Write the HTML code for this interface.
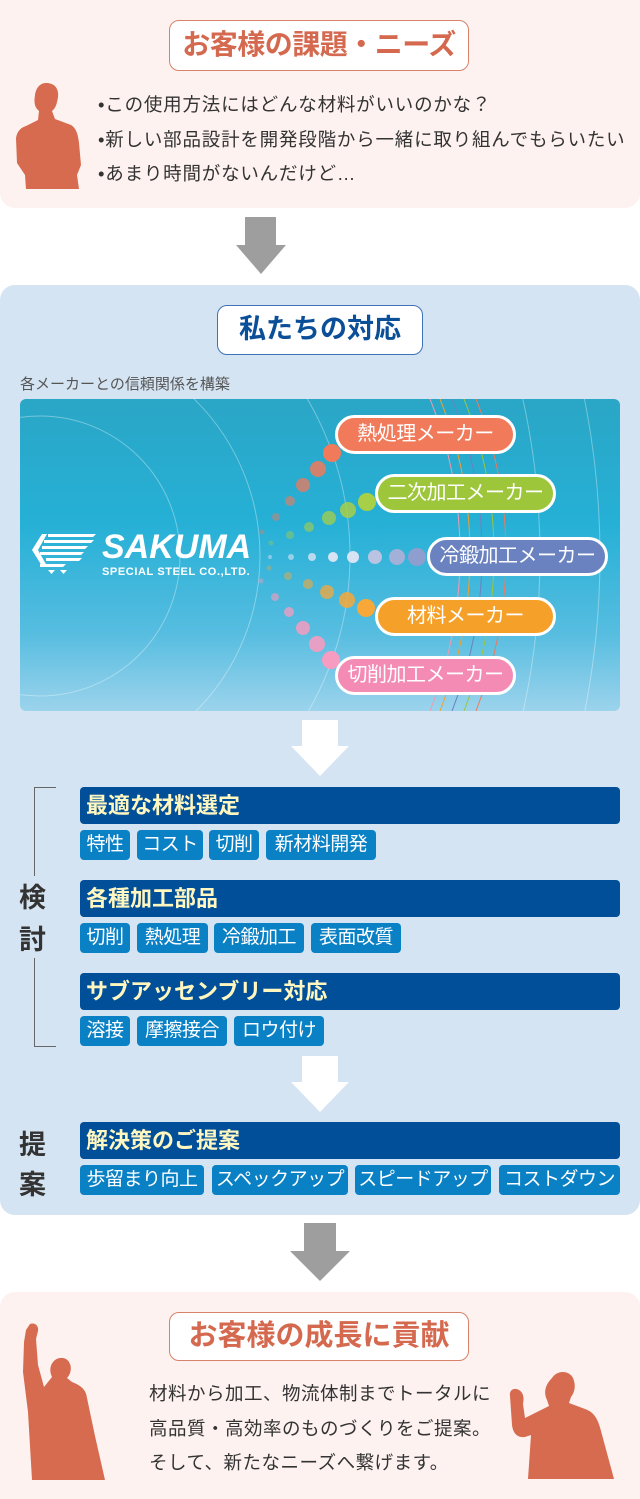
<!DOCTYPE html>
<html><head><meta charset="utf-8"><style>
*{margin:0;padding:0;box-sizing:border-box}
body{width:640px;height:1499px;background:#fff;position:relative;overflow:hidden;font-family:"Liberation Sans","Noto Sans CJK JP",sans-serif}
.a{position:absolute}
.tbox{position:absolute;border:1.5px solid #d9826a;background:#fff;border-radius:10px;color:#d4694f;font-weight:bold;font-size:28px;text-align:center;white-space:nowrap}
.bar{position:absolute;left:80px;width:540px;height:37px;background:#004f98;border-radius:4px;color:#fff6c0;font-weight:bold;font-size:22px;line-height:37px;padding-left:6px}
.tag{position:absolute;height:30px;background:#0a80c5;border-radius:4px;color:#fff;font-size:19px;line-height:30px;text-align:center;letter-spacing:-0.5px;white-space:nowrap}
.pill{position:absolute;height:39px;border:3px solid #fff;border-radius:20px;color:#fff;font-size:20px;line-height:33px;text-align:center;width:181px;white-space:nowrap;letter-spacing:-0.5px}
.side{position:absolute;left:19px;font-size:27px;color:#333;font-weight:bold}
</style></head><body>
<div class="a" style="left:0;top:0;width:640px;height:208px;background:#fdf2f0;border-radius:0 0 15px 15px"></div>
<div class="tbox" style="left:169px;top:20px;width:300px;height:51px;line-height:48px;letter-spacing:-0.5px">お客様の課題・ニーズ</div>
<svg class="a" style="left:14px;top:82px" width="72" height="108" viewBox="0 0 72 108"><path fill="#d66b4f" d="M32 1c9 0 13 6 12 14-1 6-2 11-6 14l3 8 16 6c5 3 7 9 8 18l2 22-4 10 2 14H12l-1-14-8-12L2 56c1-6 4-10 10-12l12-6 1-9c-5-4-5-10-4-16C22 6 26 1 32 1z"/></svg>
<div class="a" style="left:98px;top:88px;font-size:18.5px;line-height:34.5px;color:#333;letter-spacing:0.8px;white-space:nowrap">•この使用方法にはどんな材料がいいのかな？<br>•新しい部品設計を開発段階から一緒に取り組んでもらいたい<br>•あまり時間がないんだけど…</div>
<svg class="a" style="left:236px;top:217px" width="50" height="58"><path fill="#9e9e9e" d="M9 0h31v28h10L25 57 0 28h9z"/></svg>

<div class="a" style="left:0;top:285px;width:640px;height:930px;background:#d5e4f3;border-radius:15px"></div>
<div class="a" style="left:217px;top:305px;width:206px;height:50px;border:1.5px solid #3d73b8;background:#fff;border-radius:10px;color:#0b4f98;font-weight:bold;font-size:27px;text-align:center;line-height:47px">私たちの対応</div>
<div class="a" style="left:20px;top:373px;font-size:15px;color:#555">各メーカーとの信頼関係を構築</div>

<div class="a" style="left:20px;top:399px;width:600px;height:312px;border-radius:6px;overflow:hidden;background:linear-gradient(180deg,#2aa6c6 0%,#26b0d6 40%,#56bde0 75%,#9cd3ec 100%)">
<svg width="600" height="312" style="position:absolute;left:0;top:0">
<g fill="none" stroke="#ffffff" stroke-opacity=".35" stroke-width="1">
<circle cx="20" cy="157" r="140"/><circle cx="20" cy="157" r="220"/><circle cx="20" cy="157" r="310"/>
<circle cx="-200" cy="157" r="720"/><circle cx="-220" cy="157" r="800"/></g>
<g fill="none" stroke-width="1">
<path d="M410 0 C450 100 450 210 410 312" stroke="#f29bb0"/><path d="M420 0 C460 100 460 210 420 312" stroke="#f5a028"/>
<path d="M432 0 C472 100 472 210 432 312" stroke="#6a82c0"/><path d="M444 0 C484 100 484 210 444 312" stroke="#9dc63a"/>
<path d="M456 0 C496 100 496 210 456 312" stroke="#f07a5a"/></g>
<g transform="translate(-20,-399)">
<g fill="#f07a5a"><circle cx="332" cy="453" r="9"/><circle cx="318" cy="469" r="8" opacity=".85"/><circle cx="303" cy="485" r="7" opacity=".75"/><circle cx="290" cy="501" r="5" opacity=".6"/><circle cx="276" cy="517" r="4" opacity=".45"/><circle cx="262" cy="532" r="2.5" opacity=".35"/></g>
<g fill="#a8cf48"><circle cx="367" cy="502" r="9"/><circle cx="348" cy="510" r="8" opacity=".85"/><circle cx="329" cy="518" r="7" opacity=".75"/><circle cx="309" cy="527" r="5" opacity=".6"/><circle cx="290" cy="535" r="4" opacity=".45"/><circle cx="271" cy="543" r="2.5" opacity=".35"/></g>
<g fill="#d8e4f4"><circle cx="417" cy="557" r="9" fill="#8e9ecf"/><circle cx="397" cy="557" r="8" fill="#a3b0d8"/><circle cx="375" cy="557" r="7" fill="#bac4e2"/><circle cx="353" cy="557" r="6"/><circle cx="333" cy="557" r="5"/><circle cx="312" cy="557" r="4" opacity=".8"/><circle cx="291" cy="557" r="3" opacity=".6"/><circle cx="270" cy="557" r="2" opacity=".5"/></g>
<g fill="#f7a838"><circle cx="366" cy="608" r="9"/><circle cx="347" cy="600" r="8" opacity=".85"/><circle cx="327" cy="592" r="7" opacity=".75"/><circle cx="308" cy="584" r="5" opacity=".6"/><circle cx="288" cy="576" r="4" opacity=".45"/><circle cx="269" cy="568" r="2.5" opacity=".35"/></g>
<g fill="#f59cc0"><circle cx="331" cy="660" r="9"/><circle cx="317" cy="644" r="8" opacity=".9"/><circle cx="303" cy="628" r="7" opacity=".85"/><circle cx="289" cy="612" r="5" opacity=".75"/><circle cx="275" cy="597" r="4" opacity=".6"/><circle cx="261" cy="581" r="2.5" opacity=".45"/></g>
<g fill="#fff"><path d="M48 534h48l-3 3H48zM44 540h50l-3 3H44zM42 546h46l-3 3H42zM40 552h44l-3 3H40zM46 558h36l-3 3H46zM40 564h26l-3 3H40zM32 550l10-16h5l-9 16 9 16h-5z"/><path d="M48 570h7l-3.5 4zM60 570h7l-3.5 4z"/></g>
</g></svg>
<div class="a" style="left:82px;top:130px;color:#fff;font-weight:bold;font-style:italic;font-size:34px;letter-spacing:0px;line-height:36px">SAKUMA</div>
<div class="a" style="left:82px;top:167px;color:#fff;font-weight:bold;font-size:11px;letter-spacing:0.6px">SPECIAL STEEL CO.,LTD.</div>
</div>
<div class="pill" style="left:335px;top:415px;background:#f07a5a">熱処理メーカー</div>
<div class="pill" style="left:375px;top:474px;background:#9dc63a">二次加工メーカー</div>
<div class="pill" style="left:427px;top:537px;background:#6a82c0">冷鍛加工メーカー</div>
<div class="pill" style="left:375px;top:597px;background:#f5a028">材料メーカー</div>
<div class="pill" style="left:335px;top:656px;background:#f38bb5">切削加工メーカー</div>

<svg class="a" style="left:291px;top:720px" width="58" height="57"><path fill="#fff" d="M11 0h36v26h11L29 56 0 26h11z"/></svg>

<div class="a" style="left:34px;top:787px;width:22px;height:89px;border-left:1.5px solid #666;border-top:1.5px solid #666"></div>
<div class="a" style="left:34px;top:958px;width:22px;height:89px;border-left:1.5px solid #666;border-bottom:1.5px solid #666"></div>
<div class="side" style="top:876px">検</div>
<div class="side" style="top:918px">討</div>

<div class="bar" style="top:787px">最適な材料選定</div>
<div class="tag" style="left:80px;top:830px;width:50px">特性</div>
<div class="tag" style="left:137px;top:830px;width:66px">コスト</div>
<div class="tag" style="left:209px;top:830px;width:50px">切削</div>
<div class="tag" style="left:266px;top:830px;width:110px">新材料開発</div>
<div class="bar" style="top:880px">各種加工部品</div>
<div class="tag" style="left:80px;top:923px;width:50px">切削</div>
<div class="tag" style="left:137px;top:923px;width:71px">熱処理</div>
<div class="tag" style="left:214px;top:923px;width:90px">冷鍛加工</div>
<div class="tag" style="left:311px;top:923px;width:90px">表面改質</div>
<div class="bar" style="top:973px">サブアッセンブリー対応</div>
<div class="tag" style="left:80px;top:1016px;width:50px">溶接</div>
<div class="tag" style="left:137px;top:1016px;width:90px">摩擦接合</div>
<div class="tag" style="left:234px;top:1016px;width:90px">ロウ付け</div>

<svg class="a" style="left:291px;top:1056px" width="58" height="57"><path fill="#fff" d="M11 0h36v26h11L29 56 0 26h11z"/></svg>

<div class="side" style="top:1123px">提</div>
<div class="side" style="top:1163px">案</div>
<div class="bar" style="top:1122px">解決策のご提案</div>
<div class="tag" style="left:80px;top:1165px;width:124px">歩留まり向上</div>
<div class="tag" style="left:212px;top:1165px;width:136px">スペックアップ</div>
<div class="tag" style="left:355px;top:1165px;width:136px">スピードアップ</div>
<div class="tag" style="left:499px;top:1165px;width:121px">コストダウン</div>

<svg class="a" style="left:290px;top:1223px" width="60" height="60"><path fill="#9e9e9e" d="M14 0h32v28h14L30 58 0 28h14z"/></svg>

<div class="a" style="left:0;top:1292px;width:640px;height:207px;background:#fdf2f0;border-radius:15px 15px 0 0"></div>
<div class="tbox" style="left:169px;top:1312px;width:300px;height:49px;line-height:46px;font-size:29px">お客様の成長に貢献</div>
<svg class="a" style="left:20px;top:1322px" width="86" height="158" viewBox="0 0 86 158"><path fill="#d66b4f" d="M10 2c5-2 9 2 8 7l-2 8 2 26 6 22 8-10c-3-6-2-13 3-17 6-4 13-2 15 4 2 5 0 11-3 14l5 4c10 4 14 8 15 16l8 38 10 44H12L8 90 3 50 4 20 6 8z"/></svg>
<svg class="a" style="left:508px;top:1370px" width="112" height="110" viewBox="0 0 112 110"><path fill="#d66b4f" d="M44 8c5-8 17-8 21 0 3 7 2 14-2 19l-2 6 16 6c9 3 13 10 16 22l13 48H20l3-44-6 2c-8 1-12-4-13-12L2 26c-1-6 4-9 9-6 5 3 5 9 4 14l2 14 14-7 10-5-2-6c-3-6-3-14 5-22z"/></svg>
<div class="a" style="left:149px;top:1377px;font-size:18.5px;line-height:34.5px;color:#333;letter-spacing:0.5px;white-space:nowrap">材料から加工、物流体制までトータルに<br>高品質・高効率のものづくりをご提案。<br>そして、新たなニーズへ繋げます。</div>
</body></html>
